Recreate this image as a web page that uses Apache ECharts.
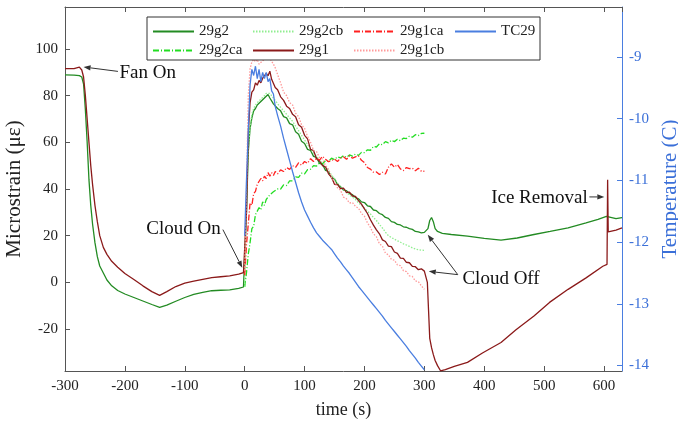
<!DOCTYPE html>
<html>
<head>
<meta charset="utf-8">
<script src="https://cdn.jsdelivr.net/npm/echarts@6/dist/echarts.min.js"></script>
<style>
  html, body { margin: 0; padding: 0; background: #fff; }
  #main { width: 678px; height: 423px; }
</style>
</head>
<body>
<div id="main"></div>
<script>
// time (s) before cloud on, only the two gauges
var tPre = [-300,-285,-276,-272,-269,-266,-263,-260,-257,-254,-250,-246,-242,-236,-230,-222,-212,-200,-185,-170,-155,-142,-130,-115,-100,-85,-70,-55,-40,-25,-10,-2];
var g1Pre = [91.6,91.6,92.2,91,88,80,70,60,50,42,33,26,20,15,12,9,6.5,3.8,1.2,-1.5,-4,-5.6,-4,-1.8,-0.3,0.5,1.3,2,2.4,2.8,3.5,4.2];
var g2Pre = [88.9,88.8,88.6,88,85,74,60,44,33,25,17,11,7,4,1,-1.5,-3.5,-5,-6.5,-8,-9.5,-10.7,-9.8,-8.1,-6.5,-5.2,-4.3,-3.6,-3.4,-3.2,-2.6,-2];

// cloud on -> cloud off
var tCloud = [0,3,6,9,12,15,18,21,24,27,30,33,36,39,42,45,48,51,55,60,65,70,75,80,85,90,95,100,105,110,115,120,125,130,135,140,145,150,155,160,165,170,175,180,185,190,195,200,205,210,215,220,225,230,235,240,245,250,255,260,265,270,275,280,285,290,295,300];
var g2Cloud = [-2,30,56,66,70.5,73.5,74.5,76,75.5,77.5, 77,79,78.5,80.5,79,78.5,76.5,76.5, 74.5,
  73.5,71,70.5,68,67.5,64.5,63.5,60.5,59.5,57, 56.5,54,53.5,51,50.5,48,47.5,45,44.3,42,
  41,39.5,39.3,38,37.6,36.3,35.8,34.5,34.2,32.8, 32.5,31,30.7,29.5,29,27.8,27.4,26,25.7,24.8,
  24.6,23.8,23.6,23,22.7,21.8,21.6,21.2,21.4];
var g2caCloud = [-2,4,12,17,23,24,29,28.5,32,31, 34.5,33,35.5,35.5,37.5,37,38.8,38.3, 40,
  40,41.8,41.5,43.5,43.5,45.2,45,46.8,46.5,48.3, 48.5,50,49.8,51.2,50.8,52.2,51.8,53.2,52.6,53.8,
  53.3,54.3,53.6,54.6,54.1,55,54.4,55.7,55.6,56.8, 56.6,58.2,58,59.4,59,60.3,59.8,60.9,60.3,61.3,
  60.7,61.8,61.6,62.6,62.2,63.3,62.9,63.8,63.9];
var g2cbCloud = [-2,32,57,67,72,74.5,76,77,77.5,78.5, 79,80,81,81.5,81,80,79,78, 76.5,
  75,73.5,72,70.5,69,67,65,63,61,59, 57.2,55.5,54,52.5,51,49.5,48,46,44.5,42.5,
  41,39.8,38.5,37.5,36.5,35.5,34,33,31.8,30.5, 29.3,27.8,26.5,24.8,23.3,21.5,20,19.2,18.5,17.8,
  17.2,16.5,16,15.4,14.8,14.3,14,13.8,13.7];
var g1Cloud = [5,30,64,77,81.5,82.5,85.5,84.5,86.5,85.5, 87.5,87,89.5,88.5,90.5,87,86.5,83.5, 82.5,
  79.5,78,75.5,74.5,72,71,67.5,66.5,63,61.5, 57,56.5,53,52,50,49.5,46.5,45,42,42,
  40.2,40.4,38.5,38.7,37,36.8,35,33.5,31.5,29.5, 26.8,24.5,22.5,20.8,18.2,17.5,15.5,15.3,13,12.4,
  10.4,10.3,8.6,8.4,6.8,6.7,5.4,5.8,4.8];
var g1caCloud = [3,16,25,34,33,38,39,42,41.5,44.5, 43.5,45.5,44.5,47,45.5,47,45.8,47.5, 46.5,
  48.2,47.5,49.2,48.4,50,49.3,51.2,50.2,51.8,51, 53,51.8,53.2,52.4,54,52.8,51.7,52.2,52.8,51.8,
  53.2,53.8,52.7,54.2,53.2,53.8,54.2,52.3,51.3,49.2, 48.5,47.2,47.3,46.2,47.2,46.4,49.3,50.8,49.3,50.5,
  48.6,47.9,49.2,48.7,48.9,47.8,48.9,47.6,47.6];
var g1cbCloud = [5,40,80,91.5,94.5,95.5,94.5,95.5,93.5,94, 95,94.5,96,95.5,96,95.5,93.5,92, 89,
  85.5,81.5,80,77,76,72.5,71,67.5,66,62.5, 60,56.5,56,53.5,52.8,50,48.5,45,43,40.5,
  39.5,36.5,35.8,34,34.2,32.5,31.8,29.5,28.3,25.5, 23.5,20.8,19.5,16.5,15.5,12.5,11.8,9.8,9.5,7.5,
  7.2,5,4.6,2.8,2.5,0.6,0.3,-1.5,-3];
// temperature (C)
var tcCloud = [-11.9,-11.0,-10.2,-9.45,-9.2,-9.3,-9.15,-9.35,-9.2,-9.4, -9.25,-9.35,-9.25,-9.4,-9.35,-9.55,-9.6,-9.8, -9.95,
  -10.12,-10.32,-10.5,-10.68,-10.86,-11.03,-11.2,-11.35,-11.48,-11.58, -11.68,-11.77,-11.85,-11.91,-11.97,-12.02,-12.07,-12.12,-12.19,-12.26,
  -12.32,-12.39,-12.45,-12.51,-12.58,-12.65,-12.72,-12.78,-12.84,-12.9, -12.96,-13.02,-13.08,-13.14,-13.2,-13.27,-13.33,-13.39,-13.45,-13.51,
  -13.57,-13.63,-13.69,-13.76,-13.82,-13.88,-13.95,-14.01,-14.07];

// after cloud off
var tPost1 = [303,305,307,309,312,315,318,322,327,335,350,372,397,428,453,483,509,540,570,598,605,606,607,620,630];
var g1Post = [4.6,0,-12,-24,-28,-31,-33.5,-35.7,-37.9,-37.4,-36,-34.3,-30.3,-25.8,-20.3,-14.4,-8.6,-3,1.9,6.9,7.7,44,21.6,22.4,23.3];
var tPost2 = [303,306,309,312,315,318,322,330,345,372,400,428,455,483,510,540,570,590,604,607,620,630];
var g2Post = [21.5,23,26.5,27.8,26,23,21.8,21,20.5,19.8,18.8,18.1,19,20.5,21.8,23.3,25.5,27,28.3,27.9,27.3,27.7];

var FONT = "'Liberation Serif', 'Times New Roman', serif";
var BLUE = '#4a7ee0';

function pairs(ts, vs) {
    return ts.map(function (t, i) { return [t, vs[i]]; });
}

function mkSeries(name, data, color, type, yIdx) {
    return {
        name: name,
        type: 'line',
        data: data,
        yAxisIndex: yIdx || 0,
        symbol: 'none',
        showSymbol: false,
        animation: false,
        lineStyle: { color: color, width: 1.3, type: type },
        itemStyle: { color: color }
    };
}

var series = [
    mkSeries('29g2', pairs(tPre, g2Pre).concat(pairs(tCloud, g2Cloud), pairs(tPost2, g2Post)), '#238b23', 'solid'),
    mkSeries('29g2ca', pairs(tCloud, g2caCloud), '#22dd22', [6, 2, 1, 2]),
    mkSeries('29g2cb', pairs(tCloud, g2cbCloud), '#90ee90', [1.5, 1.5]),
    mkSeries('29g1', pairs(tPre, g1Pre).concat(pairs(tCloud, g1Cloud), pairs(tPost1, g1Post)), '#8b1a1a', 'solid'),
    mkSeries('29g1ca', pairs(tCloud, g1caCloud), '#ff2020', [6, 2, 1, 2]),
    mkSeries('29g1cb', pairs(tCloud, g1cbCloud), '#ff9a9a', [1.5, 1.5]),
    mkSeries('TC29', pairs(tCloud, tcCloud), BLUE, 'solid', 1)
];

// 图例位置 (matlab 两行四列)
var legendPos = [['29g2', 152, 24], ['29g2ca', 152, 43], ['29g2cb', 252, 24], ['29g1', 252, 43],
                 ['29g1ca', 353, 24], ['29g1cb', 353, 43], ['TC29', 454, 24]];
var legends = legendPos.map(function (p) {
    return {
        data: [p[0]], left: p[1], top: p[2], padding: 0, z: 20,
        itemWidth: 41, itemHeight: 14, selectedMode: false,
        itemStyle: { opacity: 0 },
        textStyle: { fontFamily: FONT, fontSize: 15, color: '#222' }
    };
});

var axisLbl = { fontFamily: FONT, fontSize: 15, color: '#222' };

var myChart = echarts.init(document.getElementById('main'));

var option = {
    backgroundColor: '#fff',
    animation: false,
    grid: { left: 65, right: 56, top: 7, bottom: 52, containLabel: false, outerBoundsMode: 'none' },
    legend: legends,
    xAxis: [{
        type: 'value', min: -300, max: 630, interval: 100, position: 'bottom',
        axisLine: { show: true, onZero: false, lineStyle: { color: '#555' } },
        axisTick: { inside: true, length: 5, lineStyle: { color: '#555' } },
        axisLabel: Object.assign({ showMaxLabel: false, margin: 8 }, axisLbl),
        splitLine: { show: false },
        name: 'time (s)', nameLocation: 'middle', nameGap: 30,
        nameTextStyle: { fontFamily: FONT, fontSize: 18, color: '#222' }
    }, {
        type: 'value', min: -300, max: 630, interval: 100, position: 'top',
        axisLine: { show: true, onZero: false, lineStyle: { color: '#555' } },
        axisTick: { inside: true, length: 5, lineStyle: { color: '#555' } },
        axisLabel: { show: false },
        splitLine: { show: false }
    }],
    yAxis: [{
        type: 'value', min: -38, max: 118, splitNumber: 8, minInterval: 20, maxInterval: 20,
        position: 'left',
        axisLine: { show: true, onZero: false, lineStyle: { color: '#555' } },
        axisTick: { inside: true, length: 5, lineStyle: { color: '#555' } },
        axisLabel: Object.assign({ showMinLabel: false, showMaxLabel: false, margin: 7 }, axisLbl),
        splitLine: { show: false },
        name: 'Microstrain (με)', nameLocation: 'middle', nameGap: 37, nameRotate: 90,
        nameTextStyle: { fontFamily: FONT, fontSize: 21, color: '#222' }
    }, {
        type: 'value', min: -14.09, max: -8.19, splitNumber: 6, minInterval: 1, maxInterval: 1,
        position: 'right',
        axisLine: { show: true, onZero: false, lineStyle: { color: BLUE } },
        axisTick: { inside: true, length: 5, lineStyle: { color: BLUE } },
        axisLabel: { showMinLabel: false, showMaxLabel: false, margin: 7, fontFamily: FONT, fontSize: 15, color: '#3a6fd8' },
        splitLine: { show: false },
        name: 'Temperature (C)', nameLocation: 'middle', nameGap: 35, nameRotate: 90,
        nameTextStyle: { fontFamily: FONT, fontSize: 21, color: '#3a6fd8' }
    }],
    series: series
};

myChart.setOption(option);

// 注释 (数据坐标)
var notes = [
    { text: 'Fan On', at: [-209, 89.6], align: 'left', from: [-211.6, 90.4], to: [[-269, 92.3]] },
    { text: 'Cloud On', at: [-40, 22.8], align: 'right', from: [-36.4, 22.6], to: [[-4, 6.2]] },
    { text: 'Cloud Off', at: [363.6, 1.4], align: 'left', from: [355.8, 3.3], to: [[305.7, 20.4], [307.4, 4.7]] },
    { text: 'Ice Removal', at: [572.7, 36.1], align: 'right', from: [575.5, 36.6], to: [[600.5, 36.6]] }
];

function px(p) {
    return myChart.convertToPixel({ xAxisIndex: 0, yAxisIndex: 0 }, p);
}

var graphics = [{
    type: 'rect', z: 10,
    shape: { x: 147, y: 17, width: 393, height: 43 },
    style: { fill: '#fff', stroke: '#333', lineWidth: 1 }
}];

notes.forEach(function (n) {
    var a = px(n.at);
    graphics.push({
        type: 'text', z: 12, x: a[0], y: a[1],
        style: { text: n.text, fontFamily: FONT, fontSize: 19, fill: '#111', align: n.align, verticalAlign: 'middle' }
    });
    var s = px(n.from);
    n.to.forEach(function (tp) {
        var e = px(tp);
        var dx = e[0] - s[0], dy = e[1] - s[1];
        var len = Math.sqrt(dx * dx + dy * dy);
        var ux = dx / len, uy = dy / len;
        var hl = 7, hw = 2.6;
        var bx = e[0] - ux * hl, by = e[1] - uy * hl;
        graphics.push({
            type: 'line', z: 12,
            shape: { x1: s[0], y1: s[1], x2: bx, y2: by },
            style: { stroke: '#333', lineWidth: 1 }
        });
        graphics.push({
            type: 'polygon', z: 12,
            shape: { points: [[e[0], e[1]], [bx - uy * hw, by + ux * hw], [bx + uy * hw, by - ux * hw]] },
            style: { fill: '#333' }
        });
    });
});

myChart.setOption({ graphic: graphics });
</script>
</body>
</html>
